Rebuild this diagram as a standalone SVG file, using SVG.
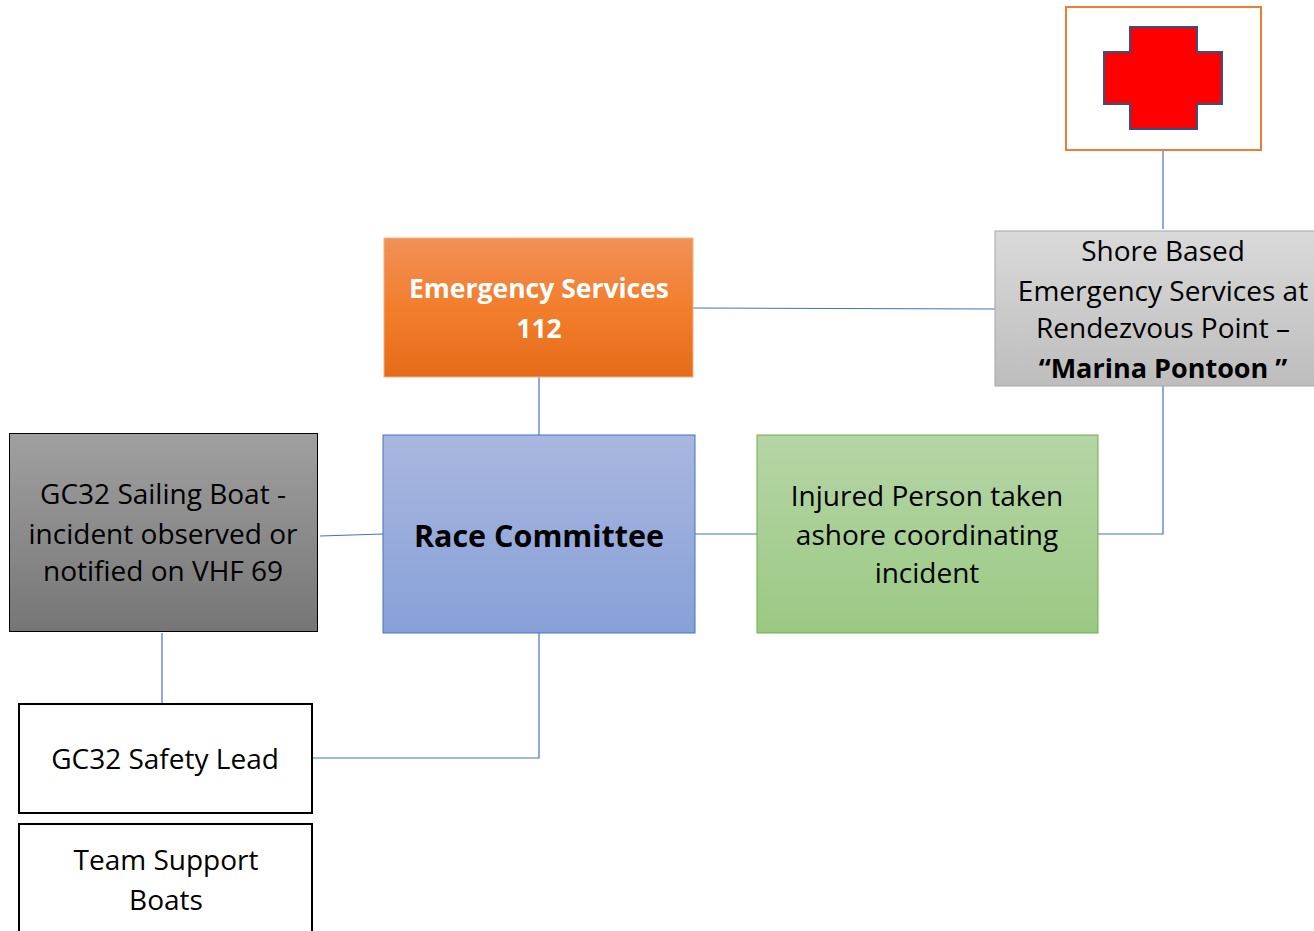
<svg xmlns="http://www.w3.org/2000/svg" width="1314" height="931" viewBox="0 0 1314 931">
<style>
text{font-family:"Open Sans","Liberation Sans",sans-serif;font-size:28px;text-anchor:middle;fill:#000}
.b{font-weight:bold;font-size:27px}
.w{fill:#fff;font-size:26.5px}
.conn{stroke:#4472C4;stroke-width:1.2;fill:none}
</style>
<defs>
<linearGradient id="gOr" x1="0" y1="0" x2="0" y2="1"><stop offset="0" stop-color="#f29059"/><stop offset="0.5" stop-color="#f27e2c"/><stop offset="1" stop-color="#e66c19"/></linearGradient>
<linearGradient id="gBl" x1="0" y1="0" x2="0" y2="1"><stop offset="0" stop-color="#a9b7e0"/><stop offset="1" stop-color="#87a1d7"/></linearGradient>
<linearGradient id="gGr" x1="0" y1="0" x2="0" y2="1"><stop offset="0" stop-color="#b5d5a6"/><stop offset="1" stop-color="#9bc983"/></linearGradient>
<linearGradient id="gDk" x1="0" y1="0" x2="0" y2="1"><stop offset="0" stop-color="#a0a0a0"/><stop offset="1" stop-color="#767676"/></linearGradient>
<linearGradient id="gLt" x1="0" y1="0" x2="0" y2="1"><stop offset="0" stop-color="#dadada"/><stop offset="1" stop-color="#bdbdbd"/></linearGradient>
</defs>
<rect width="1314" height="931" fill="#fff"/>
<g id="connectors">
<path class="conn" d="M1163 150V229"/>
<path class="conn" d="M693 308L995 309"/>
<path class="conn" d="M539 377V435"/>
<path class="conn" d="M320 536L383 534"/>
<path class="conn" d="M695 534H757"/>
<path class="conn" d="M1098 534H1163V386"/>
<path class="conn" d="M162 633V703"/>
<path class="conn" d="M313 758H539V633"/>
</g>
<g id="first-aid">
<rect x="1066" y="7" width="195" height="143" fill="#fff" stroke="#ed7d31" stroke-width="2"/>
<path d="M1130 27H1197V52H1222V104H1197V129H1130V104H1104V52H1130Z" fill="#ff0000" stroke="#2f528f" stroke-width="2"/>
</g>
<g id="shore">
<rect x="995" y="231" width="322" height="155" fill="url(#gLt)" stroke="#a6a6a6" stroke-width="1"/>
<text x="1163" y="261">Shore Based</text>
<text x="1163" y="301">Emergency Services at</text>
<text x="1163" y="338">Rendezvous Point –</text>
<text x="1163" y="378" class="b">“Marina Pontoon ”</text>
</g>
<g id="emergency">
<rect x="384" y="238" width="309" height="139" fill="url(#gOr)" stroke="#f4b183" stroke-width="1"/>
<text x="539" y="298" class="b w">Emergency Services</text>
<text x="539" y="338" class="b w">112</text>
</g>
<g id="race">
<rect x="383" y="435" width="312" height="198" fill="url(#gBl)" stroke="#4472c4" stroke-width="1"/>
<text x="539" y="547" class="b" style="font-size:30.5px">Race Committee</text>
</g>
<g id="injured">
<rect x="757" y="435" width="341" height="198" fill="url(#gGr)" stroke="#70ad47" stroke-width="1"/>
<text x="927" y="506">Injured Person taken</text>
<text x="927" y="545">ashore coordinating</text>
<text x="927" y="583">incident</text>
</g>
<g id="sailing">
<rect x="9.5" y="433.5" width="308" height="198" fill="url(#gDk)" stroke="#000" stroke-width="1"/>
<text x="163" y="504">GC32 Sailing Boat -</text>
<text x="163" y="544">incident observed or</text>
<text x="163" y="581">notified on VHF 69</text>
</g>
<g id="safety">
<rect x="19" y="704" width="293" height="109" fill="#fff" stroke="#000" stroke-width="2"/>
<text x="165" y="769">GC32 Safety Lead</text>
</g>
<g id="support">
<rect x="19" y="824" width="293" height="120" fill="#fff" stroke="#000" stroke-width="2"/>
<text x="166" y="870">Team Support</text>
<text x="166" y="910">Boats</text>
</g>
</svg>
